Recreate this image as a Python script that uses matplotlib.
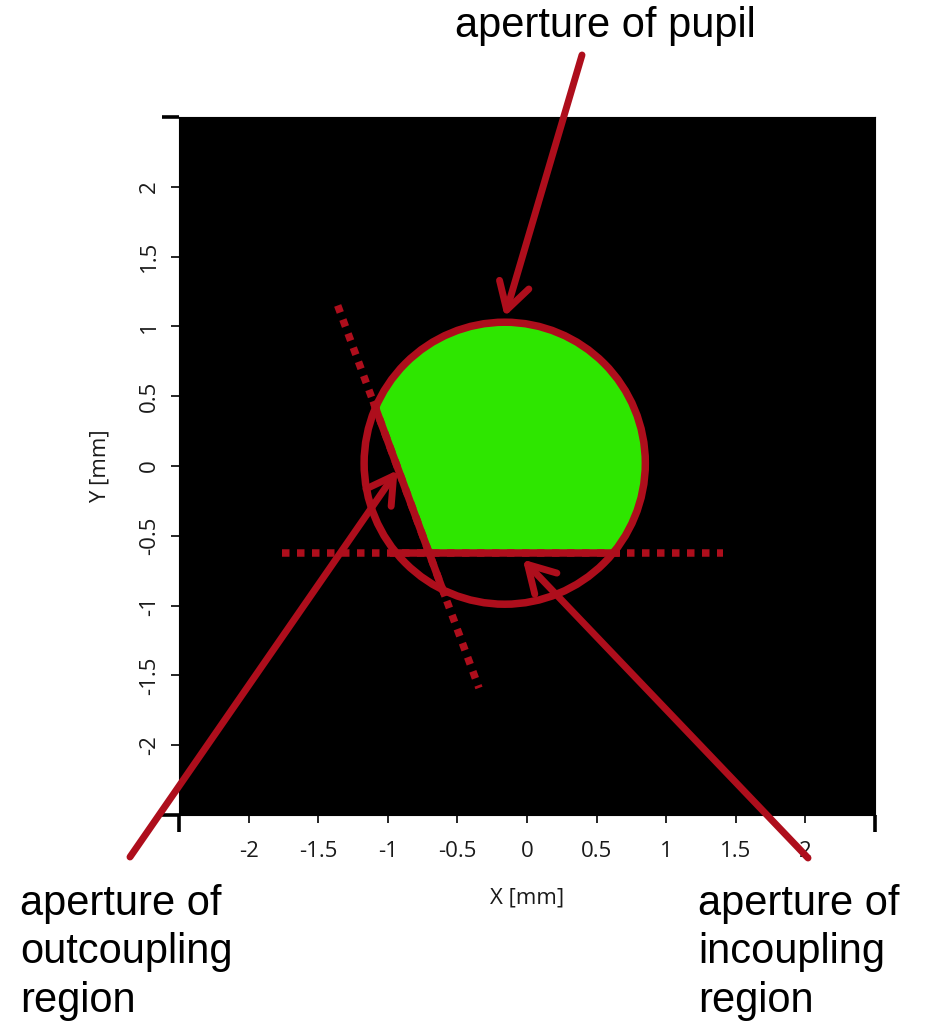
import numpy as np
import matplotlib
matplotlib.use("Agg")
import matplotlib.pyplot as plt
from matplotlib.patches import Circle, Polygon

# --- geometry of the apertures (mm) ---
pupil_center = (-0.16, 0.02)
pupil_radius = 1.01
incoupling_y = -0.62
incoupling_x = [-1.76, 1.41]
outcoupling_x = [-1.36, -0.345]
outcoupling_y = [1.15, -1.59]

# --- axes ticks ---
x_ticks = [-2.5, -2, -1.5, -1, -0.5, 0, 0.5, 1, 1.5, 2, 2.5]
x_tick_labels = ["", "-2", "-1.5", "-1", "-0.5", "0", "0.5", "1", "1.5", "2", ""]
y_ticks = [-2.5, -2, -1.5, -1, -0.5, 0, 0.5, 1, 1.5, 2, 2.5]
y_tick_labels = ["", "-2", "-1.5", "-1", "-0.5", "0", "0.5", "1", "1.5", "2", ""]

# --- callouts: text lines, arrow tip (data), arrow tail (figure pixels) ---
pupil_text = ["aperture of pupil"]
outcoupling_text = ["aperture of", "outcoupling", "region"]
incoupling_text = ["aperture of", "incoupling", "region"]
pupil_tip = (-0.16, 1.07)
outcoupling_tip = (-0.93, -0.03)
incoupling_tip = (-0.03, -0.67)

RED = "#AE0E1C"
GREEN = "#2EE600"
W, H = 927, 1022
DPI = 100

fig = plt.figure(figsize=(W / DPI, H / DPI), dpi=DPI)
ax = fig.add_axes([179 / W, (H - 815) / H, 696 / W, 698 / H])
ax.set_facecolor("black")
ax.set_xlim(-2.5, 2.5)
ax.set_ylim(-2.5, 2.5)

tick_font = dict(family=["Open Sans", "DejaVu Sans"], size=16, color="#1a1a1a")

ax.set_xticks(x_ticks, labels=x_tick_labels, **tick_font)
ax.set_yticks(y_ticks, labels=y_tick_labels, **tick_font)
for lab in ax.get_yticklabels():
    lab.set_rotation(90)
    lab.set_va("center")
ax.tick_params(axis="x", direction="out", length=6, width=1.2, pad=13)
ax.tick_params(axis="y", direction="out", length=5.5, width=1.2, pad=8)
for tk in (ax.xaxis.get_major_ticks()[0], ax.xaxis.get_major_ticks()[-1],
           ax.yaxis.get_major_ticks()[0], ax.yaxis.get_major_ticks()[-1]):
    tk.tick1line.set_markersize(12.5)
    tk.tick1line.set_markeredgewidth(2.6)

ax.set_xlabel("X [mm]", **tick_font)
ax.set_ylabel("Y [mm]", **tick_font)
ax.xaxis.label.set_va("center")
ax.yaxis.label.set_va("center")
ax.xaxis.set_label_coords(0.5, -(898 - 815) / 698)
ax.yaxis.set_label_coords(-(179 - 100) / 696, 0.5)

for sp in ax.spines.values():
    sp.set_color("black")


def outcoupling_x_at(y):
    x0, x1 = outcoupling_x
    y0, y1 = outcoupling_y
    return x0 + (y - y0) * (x1 - x0) / (y1 - y0)


# transmitted region: pupil clipped by both grating apertures
clip_poly = Polygon(
    [(outcoupling_x_at(3), 3), (3, 3), (3, incoupling_y),
     (outcoupling_x_at(incoupling_y), incoupling_y)],
    closed=True, transform=ax.transData)
fill = Circle(pupil_center, pupil_radius, facecolor=GREEN, edgecolor="none", zorder=1)
ax.add_patch(fill)
fill.set_clip_path(clip_poly)

LW = 5.4
dots = dict(color=RED, lw=LW, linestyle=(0, (1, 1)), dash_capstyle="butt", zorder=2)
ax.plot(incoupling_x, [incoupling_y, incoupling_y], **dots)
ax.plot(outcoupling_x, outcoupling_y, **dots)

# solid chords inside the pupil (to outer edge of its rim)
seg_r = pupil_radius + 0.035
cx, cy = pupil_center
half = np.sqrt(seg_r ** 2 - (incoupling_y - cy) ** 2)
ax.plot([cx - half, cx + half], [incoupling_y, incoupling_y], color=RED, lw=LW,
        solid_capstyle="butt", zorder=3)

p0 = np.array([outcoupling_x[0], outcoupling_y[0]])
d = np.array([outcoupling_x[1] - outcoupling_x[0], outcoupling_y[1] - outcoupling_y[0]])
f = p0 - np.array(pupil_center)
a = d @ d
b = 2 * f @ d
c = f @ f - seg_r ** 2
disc = np.sqrt(b * b - 4 * a * c)
t1, t2 = (-b - disc) / (2 * a), (-b + disc) / (2 * a)
q1, q2 = p0 + t1 * d, p0 + t2 * d
ax.plot([q1[0], q2[0]], [q1[1], q2[1]], color=RED, lw=LW, solid_capstyle="butt", zorder=3)

ax.add_patch(Circle(pupil_center, pupil_radius, facecolor="none", edgecolor=RED,
                    lw=LW, zorder=3))

# callout arrows
arrow_props = dict(arrowstyle="->,head_length=0.95,head_width=0.55", color=RED, lw=5,
                   mutation_scale=20, shrinkA=0, shrinkB=0)
for tip, tail in ((pupil_tip, (582, H - 55)),
                  (outcoupling_tip, (130, H - 857)),
                  (incoupling_tip, (808, H - 858))):
    ax.annotate("", xy=tip, xycoords="data", xytext=tail, textcoords="figure pixels",
                arrowprops=arrow_props, annotation_clip=False, zorder=5)

label_font = dict(family=["Liberation Sans", "DejaVu Sans"], size=30, color="black")
fig.text(605 / W, (H - 37) / H, pupil_text[0], ha="center", va="baseline", **label_font)
baselines = [915, 963, 1012]
for lines, x in ((outcoupling_text, 20), (incoupling_text, 698)):
    for line, yb in zip(lines, baselines):
        fig.text(x / W, (H - yb) / H, line, ha="left", va="baseline", **label_font)

fig.savefig("out.png", dpi=DPI)
